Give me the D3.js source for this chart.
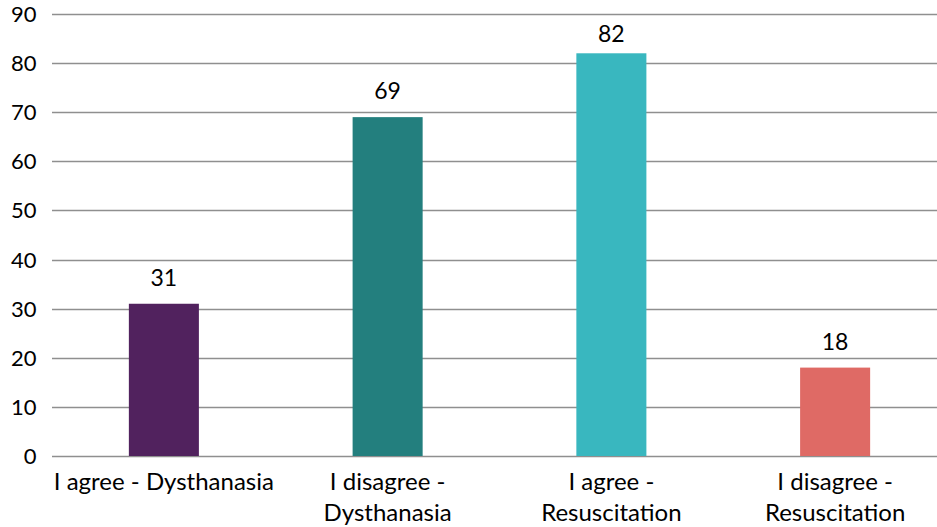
<!DOCTYPE html>
<html><head><meta charset="utf-8">
<script src="https://cdn.jsdelivr.net/npm/d3@7"></script>
<style>body{margin:0;background:#fff}svg{display:block}text{font-family:Lato,sans-serif;fill:#000}</style>
</head><body>
<svg id="c" width="937" height="527"></svg>
<script>
const categories = [["I agree - Dysthanasia"], ["I disagree -", "Dysthanasia"], ["I agree -", "Resuscitation"], ["I disagree -", "Resuscitation"]];
const values = [31, 69, 82, 18];
const colors = ["#51225E", "#237F7E", "#39B7BF", "#DF6A65"];
const yTicks = [0, 10, 20, 30, 40, 50, 60, 70, 80, 90];

const svg = d3.select("#c");
const x = d3.scaleBand().domain(d3.range(values.length)).range([52, 947]).paddingInner(0.687).paddingOuter(0.3435);
const y = d3.scaleLinear().domain([0, 90]).range([456, 14]);

svg.append("g").selectAll("line").data(yTicks).join("line")
  .attr("x1", 52).attr("x2", 937)
  .attr("y1", d => Math.round(y(d)) + 0.5).attr("y2", d => Math.round(y(d)) + 0.5)
  .attr("stroke", "#8f8f8f").attr("stroke-width", 1.3);

svg.append("g").selectAll("text").data(yTicks).join("text")
  .attr("x", 36.5).attr("y", d => y(d) + 8).attr("text-anchor", "end")
  .style("font-size", "22px").text(d => d);

svg.append("g").selectAll("rect").data(values).join("rect")
  .attr("x", (d, i) => x(i)).attr("width", x.bandwidth())
  .attr("y", d => y(d)).attr("height", d => y(0) - y(d))
  .attr("fill", (d, i) => colors[i]);

svg.append("g").selectAll("text").data(values).join("text")
  .attr("x", (d, i) => x(i) + x.bandwidth() / 2).attr("y", d => Math.max(y(d) - 18, y(90) + 27.5))
  .attr("text-anchor", "middle").style("font-size", "23px").text(d => d);

const lab = svg.append("g").selectAll("text").data(categories).join("text")
  .attr("text-anchor", "middle").style("font-size", "24px");
lab.each(function(lines, i) {
  const t = d3.select(this);
  lines.forEach((l, j) => t.append("tspan").attr("x", x(i) + x.bandwidth() / 2).attr("y", 490 + j * 31).text(l));
});
</script>
</body></html>
